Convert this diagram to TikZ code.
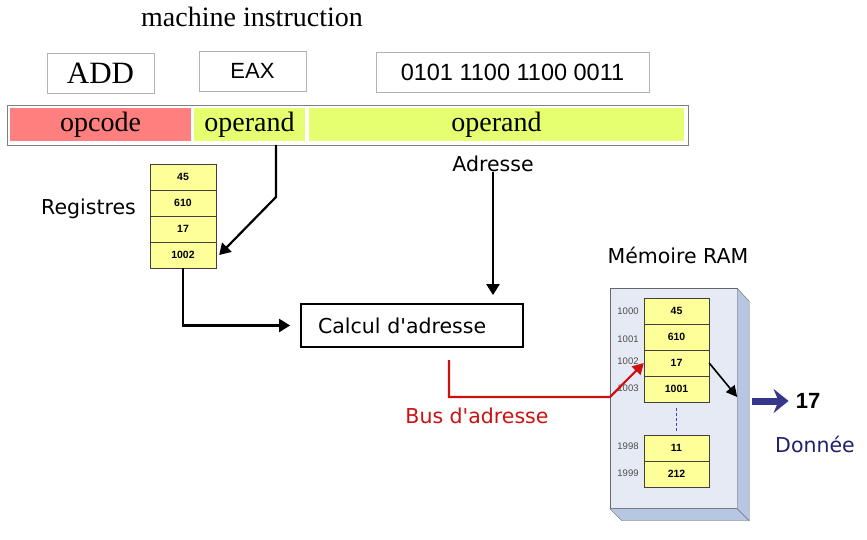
\documentclass[tikz,border=0pt]{standalone}
\usepackage{fontspec}
\setmainfont{Liberation Serif}
\newfontfamily\arial{Liberation Sans}
\newfontfamily\tah{DejaVu Sans}
\usetikzlibrary{arrows.meta}
\definecolor{opred}{HTML}{FF7F7F}
\definecolor{opgreen}{HTML}{E6FF70}
\definecolor{cellyel}{HTML}{FFFF99}
\definecolor{ramfront}{HTML}{E6EAF4}
\definecolor{ramside}{HTML}{B7C7E2}
\definecolor{busred}{HTML}{CC1111}
\definecolor{navy}{HTML}{1F1F6B}
\definecolor{bigblue}{HTML}{36368A}
\tikzset{
  wbox/.style={draw=gray!60, fill=white, inner sep=0pt, minimum height=40pt},
  field/.style={inner sep=0pt, minimum height=33pt, text height=21pt, text depth=6pt, font=\fontsize{28}{30}\selectfont},
  cell/.style={draw=black!75, fill=cellyel, inner sep=0pt, minimum width=66pt, minimum height=26pt, font=\arial\bfseries\fontsize{10.5}{11}\selectfont},
  mcell/.style={cell, minimum width=65pt},
  addr/.style={inner sep=0pt, text=black!70, font=\arial\fontsize{9.5}{10}\selectfont},
  tlabel/.style={inner sep=0pt, font=\tah\fontsize{20.5}{22}\selectfont},
  arr/.style={draw=black, line width=2.2pt, -{Triangle[length=11pt,width=13pt]}},
}
\begin{document}
\begin{tikzpicture}[x=1pt,y=-1pt]
\useasboundingbox (0,0) rectangle (867,540);
% title
\node[inner sep=0pt, font=\fontsize{28}{30}\selectfont] (title) at (252,17) {machine instruction};
% top boxes
\node[wbox, minimum width=107pt, font=\fontsize{31}{33}\selectfont] (add) at (100.5,73) {ADD};
\node[wbox, minimum width=107pt, font=\arial\fontsize{22}{24}\selectfont] (eax) at (252.5,71) {EAX};
\node[wbox, minimum width=273pt, font=\arial\fontsize{23.5}{25}\selectfont] (bin) at (512.5,72) {0101 1100 1100 0011};
% instruction bar
\node[draw=gray, inner sep=0pt, minimum width=681pt, minimum height=40pt] (bar) at (347.5,125) {};
\node[field, fill=opred, minimum width=181pt] (opc) at (100.5,124.5) {opcode};
\node[field, fill=opgreen, minimum width=111pt] (op1) at (249.5,124.5) {operand};
\node[field, fill=opgreen, minimum width=375pt] (op2) at (496.5,124.5) {operand};
% registers
\node[tlabel] (reglab) at (88.5,209) {Registres};
\node[cell] (r1) at (183,177) {45};
\node[cell] (r2) at (183,203) {610};
\node[cell] (r3) at (183,229) {17};
\node[cell] (r4) at (183,255) {1002};
% Adresse
\node[tlabel] (adr) at (493,164) {Adresse};
% Calcul box
\node[draw=black, line width=1.8pt, inner xsep=17pt, inner ysep=0pt, text width=188pt, align=left, minimum height=43pt, font=\tah\fontsize{20.5}{22}\selectfont] (calc) at (412,325.5) {Calcul d'adresse};
% arrows
\coordinate (opdrop) at (276,145);
\coordinate (bend1) at (276,197);
\draw[arr] (opdrop) -- (bend1) -- ([xshift=3pt]r4.east);
\draw[arr, shorten >=10pt] (r4.south) -- (r4.south |- calc.west) -- (calc.west);
\draw[arr, shorten >=8pt] (adr.south) -- (adr.south |- calc.north);
% RAM
\node[tlabel] (ramlab) at (678,255) {Mémoire RAM};
\node[draw=black!60, fill=ramfront, inner sep=0pt, minimum width=127pt, minimum height=220pt] (ram) at (673.5,398.5) {};
\filldraw[draw=black!60, fill=ramside] (ram.north east) -- ++(12,13) -- ([shift={(12,12)}]ram.south east) -- ([shift={(12,12)}]ram.south west) -- (ram.south west) -- (ram.south east) -- cycle;
\draw[black!60] (ram.south east) -- ++(12,12);
\node[mcell] (m1) at (676.5,311) {45};
\node[mcell] (m2) at (676.5,337) {610};
\node[mcell] (m3) at (676.5,363) {17};
\node[mcell] (m4) at (676.5,389) {1001};
\node[mcell] (m5) at (676.5,448) {11};
\node[mcell] (m6) at (676.5,474) {212};
\node[addr] (a1) at (628,311) {1000};
\node[addr] (a2) at (628,339) {1001};
\node[addr] (a3) at (628,361) {1002};
\node[addr] (a4) at (628,388) {1003};
\node[addr] (a5) at (628,446) {1998};
\node[addr] (a6) at (628,473) {1999};
\draw[blue!50!gray, densely dashed, line width=0.9pt] (m4.south) ++(0,6) coordinate (dd1) -- ++(0,23) coordinate (dd2);
% bus
\coordinate (busstart) at (449,360);
\draw[busred, line width=2.2pt, -{Triangle[length=11pt,width=12pt]}] (busstart) -- (449,397) -- (610,397) -- (m3.west);
\node[inner sep=0pt, text=busred, font=\tah\fontsize{20.5}{22}\selectfont] (buslab) at (477,416) {Bus d'adresse};
% data out
\draw[draw=black, line width=1.6pt, -{Triangle[length=11pt,width=11pt]}] (m3.east) -- (ram.east |- 0,397);
\node[inner sep=0pt, font=\arial\bfseries\fontsize{22}{24}\selectfont] (val) at (808,401) {17};
\coordinate (bluestart) at (752,401);
\draw[bigblue, line width=7pt, -{Stealth[length=15pt,width=24pt,inset=5pt]}] (bluestart) -- ([xshift=-7pt]val.west);
\node[inner sep=0pt, text=navy, font=\tah\fontsize{20.5}{22}\selectfont] (don) at (815,444) {Donnée};
\end{tikzpicture}
\end{document}
